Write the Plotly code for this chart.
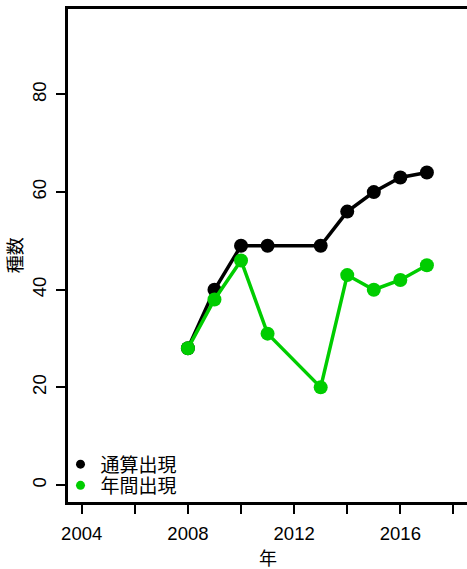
import plotly.graph_objects as go

years_total = [2008, 2009, 2010, 2011, 2013, 2014, 2015, 2016, 2017]
total_counts = [28, 40, 49, 49, 49, 56, 60, 63, 64]
years_annual = [2008, 2009, 2010, 2011, 2013, 2014, 2015, 2016, 2017]
annual_counts = [28, 38, 46, 31, 20, 43, 40, 42, 45]
series_names = ["通算出現", "年間出現"]
x_tickvals = [2004, 2006, 2008, 2010, 2012, 2014, 2016, 2018]
x_ticktext = ["2004", "", "2008", "", "2012", "", "2016", ""]
y_tickvals = [0, 20, 40, 60, 80]
x_title = "年"
y_title = "種数"

BLACK = "#000000"
GREEN = "#00CD00"
FONT = "Liberation Sans, Arial, Noto Sans CJK JP, sans-serif"

fig = go.Figure()
fig.add_trace(go.Scatter(x=years_total, y=total_counts, mode="lines+markers",
                         line=dict(color=BLACK, width=3.5),
                         marker=dict(color=BLACK, size=14),
                         showlegend=False, cliponaxis=True))
fig.add_trace(go.Scatter(x=years_annual, y=annual_counts, mode="lines+markers",
                         line=dict(color=GREEN, width=3.5),
                         marker=dict(color=GREEN, size=14),
                         showlegend=False, cliponaxis=True))
# legend entries (dot only)
fig.add_trace(go.Scatter(x=[None], y=[None], mode="markers", name=series_names[0],
                         marker=dict(color=BLACK, size=9), legend="legend"))
fig.add_trace(go.Scatter(x=[None], y=[None], mode="markers", name=series_names[1],
                         marker=dict(color=GREEN, size=9), legend="legend2"))

W, H = 467, 569
legend_common = dict(xref="container", yref="container", xanchor="left", yanchor="middle",
                     bgcolor="rgba(0,0,0,0)", borderwidth=0,
                     font=dict(family=FONT, size=19, color="#000000"),
                     itemwidth=30, tracegroupgap=0)

fig.update_layout(
    width=W, height=H,
    margin=dict(l=68, r=0, t=9, b=67, autoexpand=False),
    paper_bgcolor="white", plot_bgcolor="white",
    font=dict(family=FONT, size=18, color="#000000"),
    legend=dict(x=60.5 / W, y=1 - 464.3 / H, **legend_common),
    legend2=dict(x=60.5 / W, y=1 - 485.5 / H, **legend_common),
    xaxis=dict(range=[2003.484, 2018.51], tickvals=x_tickvals, ticktext=x_ticktext,
               showline=True, linewidth=3.3, linecolor=BLACK, mirror=True,
               ticks="outside", ticklen=9, tickwidth=2, tickcolor=BLACK,
               showgrid=False, zeroline=False, ticklabelstandoff=4,
               tickfont=dict(family=FONT, size=18.5)),
    yaxis=dict(range=[-3.48, 97.5], tickvals=y_tickvals,
               showline=True, linewidth=3.3, linecolor=BLACK, mirror=False,
               ticks="outside", ticklen=9, tickwidth=2, tickcolor=BLACK,
               showgrid=False, zeroline=False, tickangle=-90, ticklabelstandoff=2,
               tickfont=dict(family=FONT, size=18.5)),
    annotations=[
        dict(text=x_title, xref="paper", yref="paper", x=0.5, y=(502 - 558.5) / 493,
             xanchor="center", yanchor="middle", showarrow=False,
             font=dict(family=FONT, size=18)),
        dict(text=y_title, xref="paper", yref="paper", x=(15.7 - 68) / 399, y=0.5,
             xanchor="center", yanchor="middle", showarrow=False, textangle=-90,
             font=dict(family=FONT, size=18)),
    ],
)

fig.write_html("out.html", config={"displayModeBar": False},
               post_script="document.body.style.margin='0';document.body.style.overflow='hidden';")
